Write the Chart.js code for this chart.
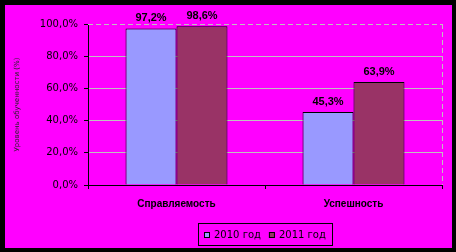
<!DOCTYPE html>
<html>
<head>
<meta charset="utf-8">
<script src="https://cdn.jsdelivr.net/npm/chart.js@4"></script>
<style>
  html, body { margin: 0; padding: 0; background: #000; }
  #frame { position: relative; width: 456px; height: 252px; background: #000; }
  #inner { position: absolute; left: 5px; top: 5px; width: 447px; height: 243px; background: #ff00ff; }
</style>
</head>
<body>
<div id="frame"><div id="inner"><canvas id="chart" width="447" height="243"></canvas></div></div>
<script>
// data
const categories = ["Справляемость", "Успешность"];
const seriesNames = ["2010 год", "2011 год"];
const values2010 = [97.2, 45.3];
const values2011 = [98.6, 63.9];
const yAxisTitle = "Уровень обученности (%)";

const colors = ["#9999ff", "#993366"];
const fmt = v => v.toFixed(1).replace(".", ",") + "%";

// value labels above the bars
const barLabels = {
    id: "barLabels",
    afterDatasetsDraw(chart) {
        const ctx = chart.ctx;
        ctx.save();
        ctx.font = "bold 11px 'Liberation Sans', Arial, sans-serif";
        ctx.fillStyle = "#000";
        ctx.textAlign = "center";
        ctx.textBaseline = "bottom";
        chart.data.datasets.forEach((ds, i) => {
            chart.getDatasetMeta(i).data.forEach((bar, j) => {
                ctx.fillText(fmt(ds.data[j]), bar.x, bar.y - 5);
            });
        });
        ctx.restore();
    }
};

// dashed top gridline and right edge, like the old office chart
const dashedEdges = {
    id: "dashedEdges",
    beforeDatasetsDraw(chart) {
        const { ctx, chartArea: a } = chart;
        ctx.save();
        ctx.strokeStyle = "#c0c0c0";
        ctx.lineWidth = 1;
        ctx.setLineDash([5, 3]);
        ctx.beginPath();
        ctx.moveTo(a.left, a.top + 0.5);
        ctx.lineTo(a.right, a.top + 0.5);
        ctx.moveTo(a.right + 0.5, a.top);
        ctx.lineTo(a.right + 0.5, a.bottom);
        ctx.stroke();
        ctx.restore();
    }
};

// boxed legend under the categories
const boxLegend = {
    id: "boxLegend",
    afterDraw(chart) {
        const { ctx, chartArea: a } = chart;
        ctx.save();
        ctx.font = "10px 'DejaVu Sans', sans-serif";
        const sq = 6, gapSq = 4, gapItem = 8, padX = 6;
        const items = chart.data.datasets.map(ds => ({ text: ds.label, color: ds.backgroundColor, w: ctx.measureText(ds.label).width }));
        let total = padX * 2;
        items.forEach((it, i) => { total += sq + gapSq + it.w + (i ? gapItem : 0); });
        const cx = (a.left + a.right) / 2;
        const top = 218, h = 22;
        let x = Math.round(cx - total / 2);
        ctx.strokeStyle = "#000";
        ctx.lineWidth = 1;
        ctx.strokeRect(x + 0.5, top + 0.5, Math.round(total), h);
        x += padX;
        const cy = top + h / 2 + 1;
        ctx.textBaseline = "middle";
        ctx.fillStyle = "#000";
        items.forEach((it, i) => {
            if (i) x += gapItem;
            ctx.fillStyle = it.color;
            ctx.fillRect(x, cy - sq / 2, sq, sq);
            ctx.strokeRect(x + 0.5, cy - sq / 2 + 0.5, sq - 1, sq - 1);
            x += sq + gapSq;
            ctx.fillStyle = "#000";
            ctx.fillText(it.text, x, cy);
            x += it.w;
        });
        ctx.restore();
    }
};

new Chart(document.getElementById("chart"), {
    type: "bar",
    data: {
        labels: categories,
        datasets: [
            { label: seriesNames[0], data: values2010, backgroundColor: colors[0], borderColor: "#000", borderWidth: 1 },
            { label: seriesNames[1], data: values2011, backgroundColor: colors[1], borderColor: "#000", borderWidth: 1 }
        ]
    },
    options: {
        responsive: false,
        animation: false,
        layout: { padding: { left: 2, right: 10, top: 19, bottom: 0 } },
        datasets: { bar: { categoryPercentage: 0.576, barPercentage: 1.0 } },
        plugins: { legend: { display: false }, tooltip: { enabled: false } },
        scales: {
            x: {
                afterFit: s => { s.height = 63; },
                border: { color: "#000", width: 1 },
                grid: { drawOnChartArea: false, tickLength: 4, tickColor: "#000", offset: true },
                ticks: {
                    padding: 9,
                    color: "#000",
                    font: { family: "'Liberation Sans', Arial, sans-serif", size: 10, weight: "bold" }
                }
            },
            y: {
                min: 0,
                max: 100,
                afterFit: s => { s.width = 81; },
                border: { color: "#000", width: 1 },
                grid: {
                    color: c => c.tick && c.tick.value === 100 ? "rgba(0,0,0,0)" : "#c0c0c0",
                    tickColor: "#000",
                    tickLength: 4
                },
                ticks: {
                    stepSize: 20,
                    padding: 6,
                    color: "#000",
                    font: { family: "'DejaVu Sans', sans-serif", size: 10 },
                    callback: v => fmt(v)
                },
                title: {
                    display: true,
                    text: yAxisTitle,
                    color: "#222",
                    font: { family: "'DejaVu Sans', sans-serif", size: 7 },
                    padding: { top: 6, bottom: 0 }
                }
            }
        }
    },
    plugins: [dashedEdges, barLabels, boxLegend]
});
</script>
</body>
</html>
